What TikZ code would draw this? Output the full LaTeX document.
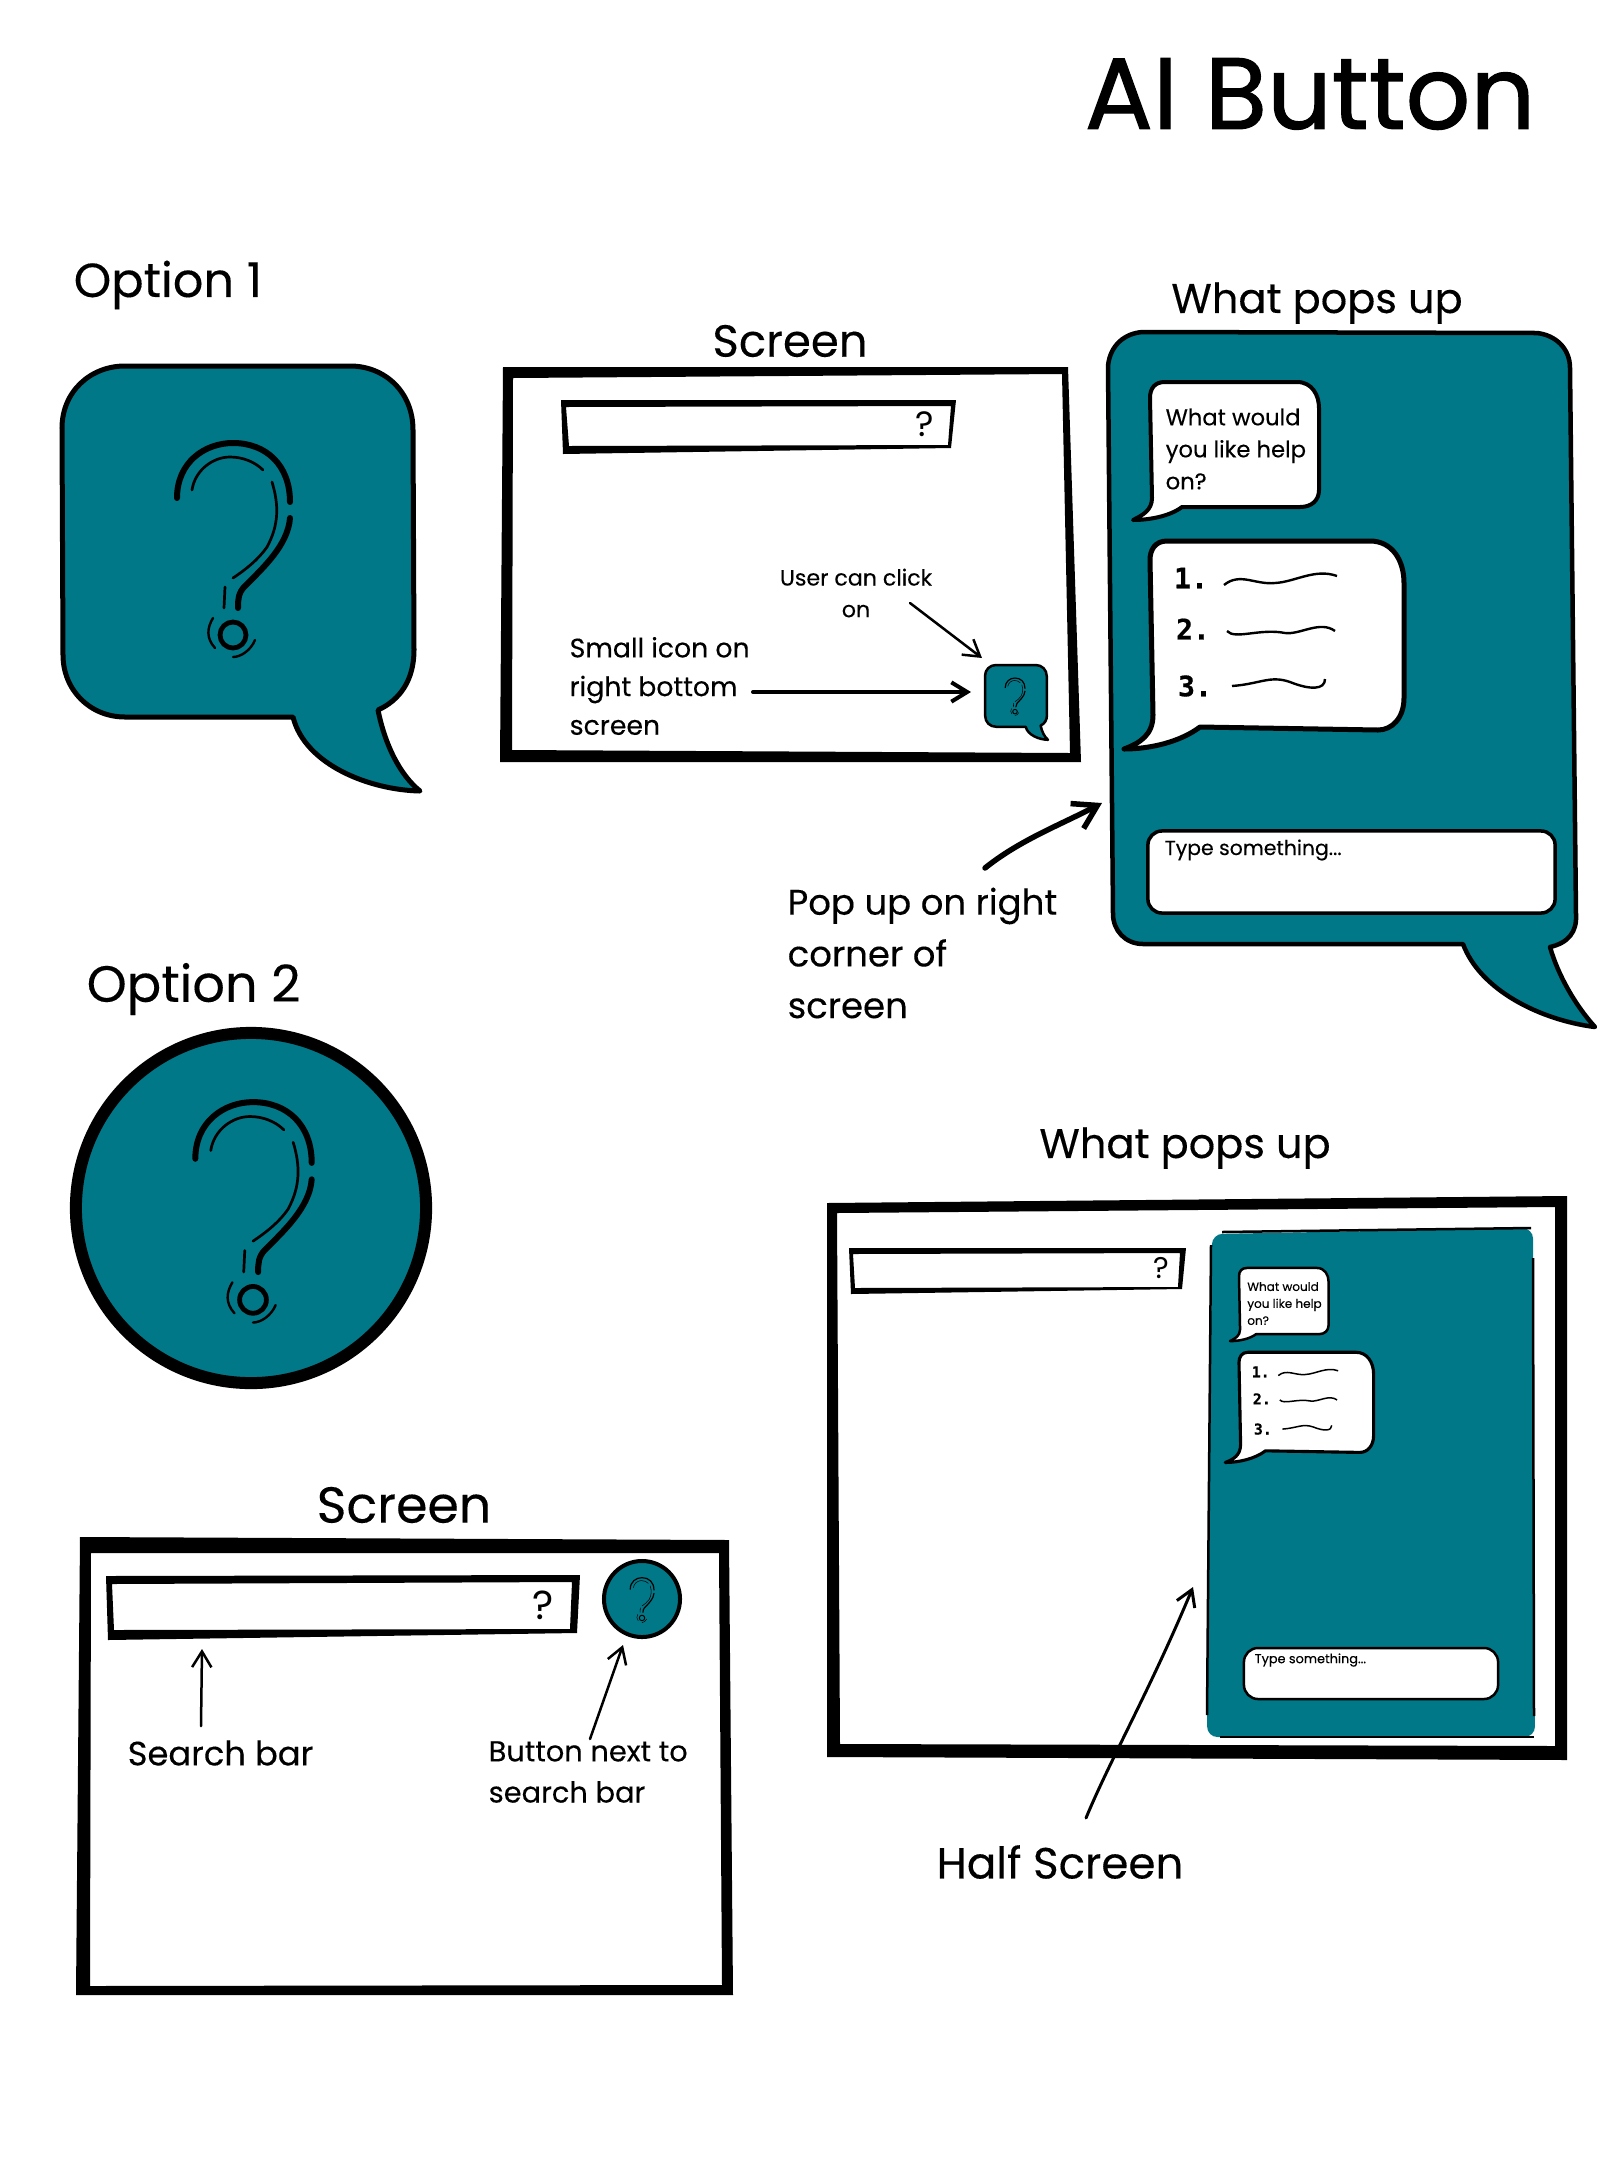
\documentclass[tikz,border=0pt]{standalone}
\usepackage{fontspec}
\setmainfont{Poppins}[FakeBold=0.25]
\newfontfamily\titlefont{Poppins}[FakeBold=1.1]
\newfontfamily\thinfont{Poppins}
\newfontfamily\listfont{DejaVu Sans Mono}[FakeBold=0.6]
\usepackage{xcolor}
\definecolor{aiteal}{RGB}{0,120,136}
\usetikzlibrary{arrows.meta,positioning}

% question mark, centre x y, scale, stroke
\newcommand{\qmark}[4]{
  \begin{scope}[shift={(#1,#2)},scale=#3,line cap=round]
    \draw[line width=#4] (-56,-42) .. controls (-56,-78) and (-28,-97) .. (0,-97) .. controls (33,-97) and (57,-75) .. (57,-38);
    \draw[line width=#4] (57,-22) .. controls (55,5) and (30,28) .. (12,46) .. controls (5,53) and (5,60) .. (5,68);
    \draw[line width=0.45*#4] (-41,-50) .. controls (-38,-70) and (-20,-83) .. (-3,-83) .. controls (10,-83) and (22,-78) .. (30,-70);
    \draw[line width=0.45*#4] (39,-58) .. controls (46,-35) and (46,-15) .. (34,7) .. controls (25,20) and (12,30) .. (0,38);
    \draw[line width=0.45*#4] (-8,47) -- (-9,68);
    \draw[line width=0.8*#4] (0,95) circle (13);
    \draw[line width=0.4*#4] (-20,78) .. controls (-26,88) and (-27,98) .. (-18,108);
    \draw[line width=0.4*#4] (0,117) .. controls (8,117) and (18,110) .. (22,100);
  \end{scope}
}

% speech bubble, top left x y, scale, stroke
\newcommand{\askbubble}[4]{
  \draw[fill=aiteal, line width=#4, line join=round, shift={(#1,#2)}, scale=#3]
    (0,62) .. controls (0,26) and (28,0) .. (63,0) -- (288,0) .. controls (323,0) and (351,26) .. (351,64)
    -- (352,284) .. controls (352,314) and (338,334) .. (316,344) .. controls (323,379) and (338,409) .. (358,425)
    .. controls (308,424) and (243,399) .. (231,351) -- (63,351) .. controls (28,351) and (1,324) .. (1,289) -- cycle;
}

% both chat bubbles, name prefix, shift x y, scale, stroke
\newcommand{\chatlist}[5]{
  \begin{scope}[shift={(#2,#3)},scale=#4,transform shape]
    \draw[fill=white, line width=#5, line join=round]
      (1150,398) .. controls (1150,388) and (1155,382) .. (1165,382) -- (1297,382) .. controls (1312,382) and (1319,395) .. (1319,408)
      -- (1319,490) .. controls (1319,500) and (1312,507) .. (1300,507) -- (1182,507) .. controls (1170,516) and (1150,520) .. (1133,520)
      .. controls (1143,515) and (1152,510) .. (1152,498) -- cycle;
    \node[chattext] (#1ask) at (1165,449) {What would\\you like help\\on?};
    \draw[fill=white, line width=1.25*#5, line join=round]
      (1150,560) .. controls (1150,550) and (1155,541) .. (1167,541) -- (1370,541) .. controls (1392,541) and (1404,560) .. (1404,583)
      -- (1404,698) .. controls (1404,718) and (1392,730) .. (1378,730) -- (1200,727) .. controls (1180,742) and (1150,749) .. (1124,749)
      .. controls (1140,743) and (1153,735) .. (1153,715) -- cycle;
    \node[listnum] (#1one) at (1191,578) {1.};
    \node[listnum] (#1two) at (1193,629) {2.};
    \node[listnum] (#1three) at (1195,686) {3.};
    \draw[line width=0.6*#5] (1224,585) .. controls (1240,572) and (1255,585) .. (1275,583) .. controls (1295,582) and (1315,568) .. (1337,576);
    \draw[line width=0.6*#5] (1227,631) .. controls (1235,640) and (1260,628) .. (1285,633) .. controls (1300,635) and (1320,620) .. (1335,631);
    \draw[line width=0.6*#5] (1232,686) .. controls (1260,684) and (1270,675) .. (1290,682) .. controls (1310,690) and (1325,690) .. (1325,679);
  \end{scope}
}

\begin{document}
\begin{tikzpicture}[
    x=0.01cm, y=-0.01cm,
    headlbl/.style={inner sep=0pt, font=\fontsize{11.8}{14}\selectfont},
    sidelbl/.style={inner sep=0pt, align=left, anchor=west, font=\fontsize{7.6}{11}\selectfont},
    chattext/.style={inner sep=0pt, align=left, anchor=west, font=\fontsize{6.45}{9.1}\selectfont},
    typetext/.style={inner sep=0pt, anchor=west, font=\fontsize{5.8}{8}\selectfont},
    listnum/.style={inner sep=0pt, font=\listfont\bfseries\fontsize{8}{9}\selectfont},
    typebox/.style={rectangle, rounded corners=4pt, draw=black, fill=white, line width=0.035cm},
    framefill/.style={fill=black, even odd rule, line join=round},
    qsign/.style={inner sep=0pt, font=\thinfont\fontsize{10}{12}\selectfont},
    qcircle/.style={circle, draw=black, fill=aiteal, inner sep=0pt},
    arr/.style={-{Straight Barb[length=4.5pt, width=5.5pt]}, line cap=round},
    bigarr/.style={-{Straight Barb[length=6.5pt, width=8pt]}, line cap=round}
  ]
    \fill[white] (0,0) rectangle (1620,2160);
    \useasboundingbox (0,0) rectangle (1620,2160);

    % Title
    \node[inner sep=0pt, font=\titlefont\fontsize{28.8}{34}\selectfont] (title) at (1310,94) {AI Button};

    % Option 1
    \node[headlbl, anchor=west, font=\fontsize{13.6}{16}\selectfont] (optone) at (73,285) {Option 1};
    \askbubble{62}{366}{1}{0.05cm}
    \qmark{233}{540}{1}{0.06cm}

    % Screen with small icon
    \node[headlbl, font=\fontsize{12.8}{15}\selectfont] (screena) at (790,341) {Screen};
    \fill[framefill] (503,367) -- (1068,367) -- (1081,762) -- (500,762) -- cycle
                     (513,378) -- (1062,374) -- (1070,753) -- (512,750) -- cycle;
    \fill[framefill] (561,400) -- (956,400) -- (951,448) -- (563,454) -- cycle
                     (566,407) -- (951,406) -- (948,445) -- (569,446) -- cycle;
    \node[qsign] (qa) at (925,424) {?};
    \node[inner sep=0pt, align=center, font=\fontsize{6.3}{9}\selectfont] (lblclick) at (856,593) {User can click\\on};
    \node[sidelbl] (lblsmall) at (569,686) {Small icon on\\right bottom\\screen};
    \askbubble{985}{665}{0.176}{0.025cm}
    \qmark{1015}{695}{0.175}{0.012cm}
    \coordinate (clickfrom) at (910,603);
    \coordinate (clickto) at (982,658);
    \coordinate (smallfrom) at (753,692);
    \coordinate (smallto) at (971,692);
    \draw[arr, line width=0.025cm] (clickfrom) -- (clickto);
    \draw[arr, line width=0.04cm] (smallfrom) -- (smallto);

    % What pops up, corner bubble
    \node[headlbl] (popa) at (1317,303) {What pops up};
    \draw[fill=aiteal, line width=0.045cm, line join=round]
      (1108,366) .. controls (1110,345) and (1125,333) .. (1143,332) -- (1537,333) .. controls (1555,335) and (1570,348) .. (1570,368)
      -- (1576,915) .. controls (1577,932) and (1568,943) .. (1550,947) .. controls (1558,975) and (1575,1005) .. (1595,1027)
      .. controls (1540,1020) and (1480,990) .. (1463,944) -- (1143,944) .. controls (1125,944) and (1113,930) .. (1113,914) -- cycle;
    \chatlist{a}{0}{0}{1}{0.04cm}
    \node[typebox, minimum width=4.07cm, minimum height=0.82cm] (typea) at (1351.5,872) {};
    \node[typetext] (typelbla) at (1164,850) {Type something...};

    % Pop up note
    \node[sidelbl, font=\fontsize{10.1}{14.7}\selectfont] (lblpop) at (787,953) {Pop up on right\\corner of\\screen};
    \coordinate (popfrom) at (985,868);
    \coordinate (popto) at (1102,803);
    \draw[bigarr, line width=0.055cm] (popfrom) .. controls (1020,840) and (1060,825) .. (popto);

    % Option 2
    \node[headlbl, anchor=west, font=\fontsize{14.5}{17}\selectfont] (opttwo) at (86,989) {Option 2};
    \node[qcircle, line width=0.12cm, minimum size=3.5cm] (bigcircle) at (251,1208) {};
    \qmark{253}{1202}{1.03}{0.06cm}

    % What pops up, half screen
    \node[headlbl] (popb) at (1185,1148) {What pops up};
    \fill[framefill] (827,1203) -- (1567,1196) -- (1567,1760) -- (827,1757) -- cycle
                     (837,1213) -- (1555,1207) -- (1555,1746) -- (840,1744) -- cycle;
    \fill[framefill] (849,1248) -- (1186,1248) -- (1182,1289) -- (851,1294) -- cycle
                     (853,1254) -- (1180,1253) -- (1178,1287) -- (855,1288) -- cycle;
    \node[qsign, font=\thinfont\fontsize{8.5}{10}\selectfont] (qb) at (1161,1268) {?};
    \fill[aiteal, rounded corners=3pt] (1212,1234) -- (1533,1228) -- (1535,1737) -- (1207,1737) -- cycle;
    \draw[line width=0.025cm] (1222,1232) -- (1531,1228);
    \draw[line width=0.025cm] (1211,1245) -- (1207,1715);
    \draw[line width=0.025cm] (1533,1258) -- (1534,1716);
    \draw[line width=0.025cm] (1220,1737) -- (1534,1737);
    \chatlist{b}{629.5}{1065.5}{0.53}{0.025cm}
    \node[typebox, line width=0.025cm, minimum width=2.54cm, minimum height=0.51cm] (typeb) at (1371,1673.5) {};
    \node[typetext, font=\fontsize{3.65}{5}\selectfont] (typelblb) at (1254,1660) {Type something...};

    % Half screen note
    \node[headlbl, font=\fontsize{12.4}{15}\selectfont] (lblhalf) at (1060,1862) {Half Screen};
    \coordinate (halffrom) at (1086,1818);
    \coordinate (halfto) at (1193,1587);
    \draw[arr, line width=0.03cm] (halffrom) .. controls (1110,1760) and (1150,1690) .. (halfto);

    % Screen with button beside search bar
    \node[headlbl, font=\fontsize{14.4}{17}\selectfont] (screenb) at (404,1505) {Screen};
    \fill[framefill] (80,1537) -- (729,1540) -- (733,1995) -- (76,1995) -- cycle
                     (91,1553) -- (719,1553) -- (722,1985) -- (90,1986) -- cycle;
    \fill[framefill] (106,1576) -- (580,1575) -- (577,1633) -- (108,1640) -- cycle
                     (112,1584) -- (572,1582) -- (570,1629) -- (114,1630) -- cycle;
    \node[qsign, font=\thinfont\fontsize{11.5}{13}\selectfont] (qc) at (543,1605) {?};
    \node[qcircle, line width=0.04cm, minimum size=0.76cm] (smallcircle) at (642,1599) {};
    \qmark{642}{1598}{0.21}{0.012cm}
    \node[sidelbl, font=\fontsize{9.6}{12}\selectfont] (lblsearch) at (127,1753) {Search bar};
    \node[sidelbl, font=\fontsize{8.2}{11.7}\selectfont] (lblbutton) at (488,1772) {Button next to\\search bar};
    \coordinate (searchfrom) at (201,1726);
    \coordinate (searchto) at (202,1649);
    \coordinate (buttonfrom) at (590,1739);
    \coordinate (buttonto) at (623,1645);
    \draw[arr, line width=0.025cm] (searchfrom) -- (searchto);
    \draw[arr, line width=0.025cm] (buttonfrom) -- (buttonto);
  \end{tikzpicture}
\end{document}
